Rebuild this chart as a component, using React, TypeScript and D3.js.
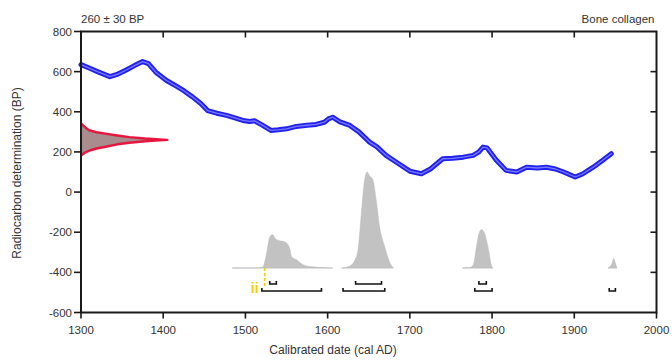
import React from "react";
import * as d3 from "d3";

// Calibration curve (IntCal)
const curveYears = [1300, 1310, 1320, 1335, 1345, 1355, 1365, 1375, 1382, 1391, 1404, 1415, 1425, 1436, 1446, 1454, 1465, 1477, 1487, 1497, 1505, 1511, 1520, 1531, 1540, 1550, 1562, 1575, 1586, 1596, 1601, 1606, 1615, 1627, 1638, 1651, 1660, 1671, 1685, 1700, 1714, 1725, 1740, 1752, 1765, 1777, 1784, 1789, 1794, 1805, 1817, 1830, 1842, 1855, 1866, 1877, 1887, 1901, 1910, 1923, 1935, 1945];
const curveBP = [635, 618, 600, 575, 588, 608, 630, 650, 640, 597, 556, 530, 505, 473, 440, 406, 393, 382, 370, 357, 352, 355, 335, 307, 310, 315, 327, 333, 337, 348, 365, 373, 350, 332, 300, 249, 225, 183, 145, 104, 91, 115, 166, 168, 174, 183, 200, 224, 220, 160, 108, 100, 124, 120, 124, 115, 100, 75, 90, 124, 160, 191];

// Radiocarbon measurement distribution (260 ± 30 BP)
const rcBP = [342, 330, 318, 307, 298, 290, 282, 274, 267, 260, 253, 246, 238, 227, 217, 207, 195, 182];
const rcDensity = [0, 0.03, 0.06, 0.1, 0.18, 0.3, 0.42, 0.56, 0.74, 1, 0.74, 0.56, 0.42, 0.3, 0.18, 0.1, 0.04, 0];

// Calibrated (posterior) distribution; null separates the pieces
const postYears = [1484, 1515, 1521, 1525, 1529.5, 1533, 1536, 1539, 1544, 1548, 1552, 1554, 1556, 1562, 1570, 1582, 1598, 1606, null, 1617, 1627, 1633, 1637, 1641, 1645, 1648, 1651, 1655, 1659, 1663, 1669.5, 1676, 1680, null, 1764, 1773, 1777, 1781, 1783, 1787, 1791, 1795, 1800, 1801, null, 1941, 1944, 1946, 1948, 1950, 1952];
const postDensity = [0, 0, 0.01, 0.12, 0.32, 0.35, 0.31, 0.29, 0.28, 0.27, 0.24, 0.2, 0.12, 0.085, 0.035, 0.012, 0.003, 0, null, 0, 0.02, 0.08, 0.19, 0.57, 0.92, 1, 0.96, 0.92, 0.71, 0.44, 0.22, 0.05, 0, null, 0, 0.005, 0.03, 0.22, 0.32, 0.4, 0.36, 0.22, 0.01, 0, null, 0, 0.02, 0.05, 0.1, 0.05, 0];

// Highest posterior density ranges
const range68Start = [1529.5, 1634, 1784];
const range68End = [1537.6, 1665.5, 1793];
const range95Start = [1520, 1618.7, 1779, 1942.5];
const range95End = [1592.5, 1669.5, 1800, 1950];

const xTicks = [1300, 1400, 1500, 1600, 1700, 1800, 1900, 2000];
const yTicks = [800, 600, 400, 200, 0, -200, -400, -600];

const markerYear = 1523.5;
const markerLabelYear = 1506.5;

export default function App() {
  const W = 672, H = 360;
  const x = d3.scaleLinear().domain([1300, 2000]).range([81, 656.5]);
  const y = d3.scaleLinear().domain([-600, 800]).range([312.5, 31.5]);
  const rcW = d3.scaleLinear().domain([0, 1]).range([x(1300), x(1405)]);
  const postH = d3.scaleLinear().domain([0, 1]).range([268, 172]);

  const curvePts = curveYears.map((yr, i) => [yr, curveBP[i]] as [number, number]);
  const curveLine = d3.line<[number, number]>().x(d => x(d[0])).y(d => y(d[1])).curve(d3.curveLinear);
  const cPath = curveLine(curvePts) || "";

  const rcPts = rcBP.map((b, i) => [b, rcDensity[i]] as [number, number]);
  const rcArea = d3.area<[number, number]>().y(d => y(d[0])).x0(rcW(0)).x1(d => rcW(d[1]));
  const rcLine = d3.line<[number, number]>().y(d => y(d[0])).x(d => rcW(d[1]));

  const postPts = postYears.map((yr, i) => [yr, postDensity[i]] as [number | null, number | null]);
  const postArea = d3.area<[number | null, number | null]>()
    .defined(d => d[0] !== null)
    .x(d => x(d[0] as number)).y0(postH(0)).y1(d => postH(d[1] as number))
    .curve(d3.curveMonotoneX);
  const baseLine = d3.line<[number | null, number | null]>()
    .defined(d => d[0] !== null)
    .x(d => x(d[0] as number)).y(postH(0));

  const bracket = (a: number, b: number, yy: number) =>
    `M${x(a)},${yy - 3}V${yy}H${x(b)}V${yy - 3}`;

  const font = "Liberation Sans, Arial, sans-serif";
  const axisColor = "#1a1a1a";
  const x0 = x(1300), x1 = x(2000), yTop = y(800), yBot = y(-600);

  return (
    <svg width={W} height={H} style={{ position: "absolute", left: 0, top: 0, background: "#fff" }} fontFamily={font}>
      {/* titles */}
      <text x={x0} y={23} fontSize={11.5} fill="#333">260 ± 30 BP</text>
      <text x={x1 - 2} y={23} fontSize={11.5} fill="#333" textAnchor="end">Bone collagen</text>

      {/* posterior distribution */}
      <path d={baseLine(postPts) || ""} stroke="#d6d9e4" strokeWidth={1.2} fill="none" />
      <path d={postArea(postPts) || ""} fill="#c2c2c2" stroke="#bbbbbb" strokeWidth={0.5} />

      {/* ranges */}
      {range68Start.map((s, i) => (
        <path key={"r68" + i} d={bracket(s, range68End[i], 284)} stroke="#111" strokeWidth={1.6} fill="none" />
      ))}
      {range95Start.map((s, i) => (
        <path key={"r95" + i} d={bracket(s, range95End[i], 291)} stroke="#111" strokeWidth={1.6} fill="none" />
      ))}

      {/* yellow markers */}
      <line x1={x(markerYear)} x2={x(markerYear)} y1={268} y2={286} stroke="#f0d400" strokeWidth={1.8} strokeDasharray="3,2" />
      <text x={x(markerLabelYear)} y={293} fontSize={14} fontWeight="bold" fill="#f0d000">ii</text>

      {/* calibration curve */}
      <path d={cPath} stroke="#2020f0" strokeWidth={5} fill="none" strokeLinejoin="round" strokeLinecap="round" />
      <path d={cPath} stroke="#7a7aff" strokeWidth={1.3} fill="none" strokeLinejoin="round" strokeLinecap="round" />

      {/* radiocarbon distribution */}
      <path d={rcArea(rcPts) || ""} fill="#a88c8e" />
      <path d={rcLine(rcPts) || ""} stroke="#e8163e" strokeWidth={2.4} fill="none" strokeLinejoin="round" />

      {/* frame */}
      <rect x={x0} y={yTop} width={x1 - x0} height={yBot - yTop} fill="none" stroke={axisColor} strokeWidth={2} />

      {/* x ticks */}
      {xTicks.map(t => (
        <g key={"xt" + t}>
          <line x1={x(t)} x2={x(t)} y1={yBot} y2={yBot + 6} stroke={axisColor} strokeWidth={1.6} />
          {t > 1300 && t < 2000 && (
            <line x1={x(t)} x2={x(t)} y1={yTop} y2={yTop + 6} stroke={axisColor} strokeWidth={1.6} />
          )}
          <text x={x(t)} y={334} fontSize={11.5} fill="#333" textAnchor="middle">{t}</text>
        </g>
      ))}

      {/* y ticks */}
      {yTicks.map(t => (
        <g key={"yt" + t}>
          <line x1={x0 - 7} x2={x0} y1={y(t)} y2={y(t)} stroke={axisColor} strokeWidth={1.6} />
          {t < 800 && t > -600 && (
            <line x1={x1 - 6} x2={x1} y1={y(t)} y2={y(t)} stroke={axisColor} strokeWidth={1.6} />
          )}
          <text x={72} y={y(t) + 4} fontSize={11.5} fill="#333" textAnchor="end">{t}</text>
        </g>
      ))}

      {/* axis labels */}
      <text x={333} y={354} fontSize={12} fill="#333" textAnchor="middle">Calibrated date (cal AD)</text>
      <text transform={`translate(21,${173}) rotate(-90)`} fontSize={12} fill="#333" textAnchor="middle">Radiocarbon determination (BP)</text>
    </svg>
  );
}
